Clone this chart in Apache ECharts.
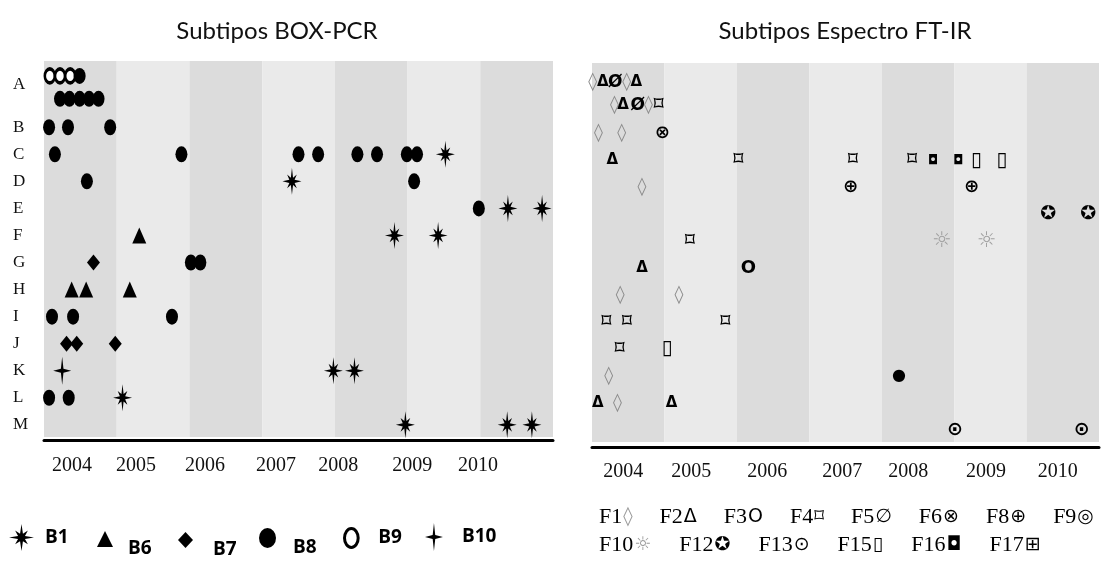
<!DOCTYPE html>
<html>
<head>
<meta charset="utf-8">
<script src="https://cdn.jsdelivr.net/npm/echarts@6/dist/echarts.min.js"></script>
<style>
  html, body { margin: 0; padding: 0; background: #fff; }
  #chart { width: 1105px; height: 574px; }
</style>
</head>
<body>
<div id="chart"></div>
<script>
// ---- data -------------------------------------------------------------
const years = [2004, 2005, 2006, 2007, 2008, 2009, 2010];
const yearLabels = ['2004', '2005', '2006', '2007', '2008', '2009', '2010'];
const rows = ['A', 'B', 'C', 'D', 'E', 'F', 'G', 'H', 'I', 'J', 'K', 'L', 'M'];

// BOX-PCR subtypes: [isolation date as decimal year, row, lane (row A holds two lanes)]
const boxB1 = [[2009.52, 'C'], [2007.41, 'D'], [2010.38, 'E'], [2010.85, 'E'], [2008.82, 'F'], [2009.42, 'F'],
               [2007.98, 'K'], [2008.27, 'K'], [2005.08, 'L'], [2008.97, 'M'], [2010.37, 'M'], [2010.71, 'M']];
const boxB6 = [[2005.31, 'F'], [2004.38, 'H'], [2004.58, 'H'], [2005.18, 'H']];
const boxB7 = [[2004.68, 'G'], [2004.31, 'J'], [2004.45, 'J'], [2004.98, 'J']];
const boxB8 = [[2004.49, 'A', 0],
               [2004.22, 'A', 1], [2004.35, 'A', 1], [2004.49, 'A', 1], [2004.62, 'A', 1], [2004.75, 'A', 1],
               [2004.07, 'B'], [2004.33, 'B'], [2004.91, 'B'],
               [2004.15, 'C'], [2005.89, 'C'], [2007.50, 'C'], [2007.77, 'C'], [2008.31, 'C'], [2008.58, 'C'], [2008.99, 'C'], [2009.13, 'C'],
               [2004.59, 'D'], [2009.09, 'D'], [2009.98, 'E'], [2006.02, 'G'], [2006.15, 'G'],
               [2004.11, 'I'], [2004.40, 'I'], [2005.76, 'I'], [2004.07, 'L'], [2004.34, 'L']];
const boxB9 = [[2004.08, 'A', 0], [2004.22, 'A', 0], [2004.36, 'A', 0]];
const boxB10 = [[2004.25, 'K']];

// FT-IR spectrum subtypes
const ftF1 = [[2004.01, 'A', 0], [2004.48, 'A', 0], [2004.31, 'A', 1], [2004.78, 'A', 1], [2004.09, 'B'], [2004.41, 'B'],
              [2004.69, 'D'], [2004.39, 'H'], [2005.20, 'H'], [2004.23, 'K'], [2004.35, 'L']];
const ftF2 = [[2004.15, 'A', 0], [2004.61, 'A', 0], [2004.43, 'A', 1], [2004.28, 'C'], [2004.69, 'G'], [2004.08, 'L'], [2005.10, 'L']];
const ftF3 = [[2006.16, 'G']];
const ftF4 = [[2004.92, 'A', 1], [2006.02, 'C'], [2007.60, 'C'], [2008.42, 'C'], [2005.35, 'F'],
              [2004.20, 'I'], [2004.48, 'I'], [2005.84, 'I'], [2004.38, 'J']];
const ftF5 = [[2004.32, 'A', 0], [2004.63, 'A', 1]];
const ftF6 = [[2004.97, 'B']];
const ftF8 = [[2007.57, 'D'], [2009.24, 'D']];
const ftF9 = [[2008.24, 'K']];
const ftF10 = [[2008.83, 'F'], [2009.45, 'F']];
const ftF12 = [[2010.30, 'E'], [2010.85, 'E']];
const ftF13 = [[2009.01, 'M'], [2010.76, 'M']];
const ftF15 = [[2009.31, 'C'], [2009.66, 'C'], [2005.04, 'J']];
const ftF16 = [[2008.71, 'C'], [2009.06, 'C']];
const ftF17 = [];

// ---- layout & styling ---------------------------------------------------
const laneA = [0.1, 0.95];              // row A is split into two lanes
const rowValue = (r, lane) => r === 'A' ? laneA[lane || 0] : rows.indexOf(r) + 1;
const toPoints = arr => arr.map(d => [d[0], rowValue(d[1], d[2])]);

const bandDark = '#dcdcdc', bandLight = '#eaeaea';
const bands = years.map((y, i) => [
  { xAxis: y, itemStyle: { color: i % 2 === 0 ? bandDark : bandLight } },
  { xAxis: y + 1 }
]);

// positions of the year captions under each panel
const boxYearAt = [2004.385, 2005.266, 2006.215, 2007.19, 2008.045, 2009.063, 2009.97];
const ftYearAt = [2004.43, 2005.37, 2006.42, 2007.455, 2008.365, 2009.44, 2010.43];
const rowLabelAt = [0.43, 2, 3, 4, 5, 6, 7, 8, 9, 10, 11, 12, 13];

// star outline with `points` spikes; diagonal spikes scaled by `diag`, width by `sx`
function starPath(points, inner, diag, sx) {
  let d = '';
  for (let i = 0; i < points * 2; i++) {
    const a = Math.PI * i / points - Math.PI / 2;
    let r = i % 2 === 0 ? 1 : inner;
    if (diag && i % 2 === 0 && (i / 2) % 2 === 1) r *= diag;
    d += (i ? 'L' : 'M') + (sx * r * Math.cos(a)).toFixed(3) + ',' + (r * Math.sin(a)).toFixed(3) + ' ';
  }
  return 'path://' + d + 'Z';
}
const ellipsePath = rx => `path://M0,-1 A${rx},1 0 1 1 0,1 A${rx},1 0 1 1 0,-1 Z`;

const spikyStar = starPath(8, 0.3, 0.72, 0.68);
const fourStar = starPath(4, 0.2, 0, 0.64);
const oval = ellipsePath(0.75);

const serif = '"Liberation Serif", "Times New Roman", serif';
const glyphFont = '"DejaVu Sans", sans-serif';

// glyph drawn for every FT-IR subtype (mark, legend)
const ftGlyph = {
  F1: { mark: '◊', legend: '◊', size: 18, color: '#8c8c8c', weight: 'normal' },
  F2: { mark: 'Δ', legend: 'Δ', size: 15, color: '#000', weight: 'bold' },
  F3: { mark: 'O', legend: 'O', size: 18, color: '#000', weight: 'bold' },
  F4: { mark: '⌑', legend: '⌑', size: 19, color: '#000', weight: 'bold' },
  F5: { mark: 'Ø', legend: '∅', size: 17, color: '#000', weight: 'bold' },
  F6: { mark: '⊗', legend: '⊗', size: 18, color: '#000', weight: 'bold' },
  F8: { mark: '⊕', legend: '⊕', size: 18, color: '#000', weight: 'bold' },
  F9: { mark: '●', legend: '◎', size: 16, color: '#000', weight: 'bold' },
  F10: { mark: '☼', legend: '☼', size: 22, color: '#a0a0a0', weight: 'normal' },
  F12: { mark: '✪', legend: '✪', size: 19, color: '#000', weight: 'bold' },
  F13: { mark: '⊙', legend: '⊙', size: 19, color: '#000', weight: 'bold' },
  F15: { mark: '▯', legend: '▯', size: 20, color: '#000', weight: 'normal' },
  F16: { mark: '◘', legend: '◘', size: 13, color: '#000', weight: 'normal' },
  F17: { mark: '⊞', legend: '⊞', size: 18, color: '#000', weight: 'normal' }
};
const ftData = { F1: ftF1, F2: ftF2, F3: ftF3, F4: ftF4, F5: ftF5, F6: ftF6, F8: ftF8, F9: ftF9,
                 F10: ftF10, F12: ftF12, F13: ftF13, F15: ftF15, F16: ftF16, F17: ftF17 };

// ---- series -------------------------------------------------------------
const bandSeries = idx => ({
  type: 'scatter', xAxisIndex: idx, yAxisIndex: idx, data: [], silent: true, z: 0,
  markArea: { silent: true, data: bands }
});

const boxSeries = [
  { name: 'B9', data: boxB9, symbol: oval, symbolSize: [10, 14],
    itemStyle: { color: '#fff', borderColor: '#000', borderWidth: 3, opacity: 1 } },
  { name: 'B8', data: boxB8, symbol: oval, symbolSize: [12, 16] },
  { name: 'B6', data: boxB6, symbol: 'triangle', symbolSize: [14, 16] },
  { name: 'B7', data: boxB7, symbol: 'diamond', symbolSize: [13, 16] },
  { name: 'B1', data: boxB1, symbol: spikyStar, symbolSize: [19, 27] },
  { name: 'B10', data: boxB10, symbol: fourStar, symbolSize: [18, 28] }
].map(s => Object.assign({ type: 'scatter', xAxisIndex: 0, yAxisIndex: 0, z: 3,
                           itemStyle: { color: '#000', opacity: 1 } },
                         s, { data: toPoints(s.data) }));

const ftSeries = Object.keys(ftData).map(k => {
  const g = ftGlyph[k];
  return {
    type: 'scatter', name: k, xAxisIndex: 1, yAxisIndex: 1, z: 3,
    data: toPoints(ftData[k]),
    symbol: 'circle', symbolSize: 2,
    itemStyle: { color: 'rgba(0,0,0,0)', opacity: 1 },
    label: {
      show: true, position: 'inside', formatter: g.mark, opacity: 1,
      fontFamily: glyphFont, fontSize: g.size, fontWeight: g.weight, color: g.color
    }
  };
});

// ---- legends ------------------------------------------------------------
// B6, B7 and B8 captions sit a little lower than their icons
const boxLegendLayout = [
  { name: 'B1', icon: starPath(8, 0.3, 0.72, 0.93), left: 9, top: 524, w: 25, h: 27, pad: 6, low: false },
  { name: 'B6', icon: 'triangle', left: 97, top: 519, w: 16, h: 16, pad: 10, low: true },
  { name: 'B7', icon: 'diamond', left: 178, top: 520, w: 15, h: 16, pad: 15, low: true },
  { name: 'B8', icon: ellipsePath(0.85), left: 259, top: 518, w: 17, h: 20, pad: 12, low: true },
  { name: 'B9', icon: ellipsePath(0.72), left: 343, top: 527, w: 14, h: 19, pad: 15, low: false, border: 3 },
  { name: 'B10', icon: fourStar, left: 425, top: 523, w: 18, h: 28, pad: 14, low: false }
];
const boxLegends = boxLegendLayout.map(l => {
  const lg = {
    data: [{ name: l.name, icon: l.icon }], left: l.left, top: l.top, padding: 0,
    itemWidth: l.w, itemHeight: l.h, selectedMode: false,
    formatter: n => (l.low ? '\n' : '') + n,
    textStyle: { fontFamily: '"Open Sans", sans-serif', fontWeight: 'bold', fontSize: 19, color: '#000',
                 lineHeight: 20, padding: [0, 0, 0, l.pad] }
  };
  if (l.border) lg.itemStyle = { borderWidth: l.border, borderColor: '#000', color: '#fff' };
  return lg;
});

const ftRich = {
  n: { fontFamily: serif, fontSize: 22, color: '#000' },
  g: { fontFamily: glyphFont, fontSize: 19, color: '#000', padding: [0, 0, 0, 1] },
  q: { fontFamily: glyphFont, fontSize: 19, color: '#9a9a9a', padding: [0, 0, 0, 1] }
};
const ftLegend = (names, top, gap) => ({
  data: names, left: 594, top: top, padding: 0, itemGap: gap,
  itemWidth: 0, itemHeight: 0, selectedMode: false,
  formatter: n => `{n|${n}}{${ftGlyph[n].color === '#000' ? 'g' : 'q'}|${ftGlyph[n].legend}}`,
  textStyle: { rich: ftRich }
});

// ---- chart --------------------------------------------------------------
const axisLabelX = (at) => ({
  customValues: at,
  formatter: v => yearLabels[at.findIndex(p => Math.abs(p - v) < 1e-6)],
  fontFamily: serif, fontSize: 20, color: '#111'
});

const option = {
  backgroundColor: '#fff',
  animation: false,
  title: [
    { text: 'Subtipos BOX-PCR', left: 277, top: 19, textAlign: 'center', padding: 0,
      textStyle: { fontFamily: 'Lato, sans-serif', fontWeight: 'normal', fontSize: 24, color: '#111' } },
    { text: 'Subtipos Espectro FT-IR', left: 845, top: 19, textAlign: 'center', padding: 0,
      textStyle: { fontFamily: 'Lato, sans-serif', fontWeight: 'normal', fontSize: 24, color: '#111' } }
  ],
  grid: [
    { left: 44, top: 61, width: 509, height: 376 },
    { left: 592, top: 63, width: 507, height: 379 }
  ],
  xAxis: [
    { type: 'value', gridIndex: 0, min: 2004, max: 2011, offset: 3,
      axisLine: { show: true, onZero: false, lineStyle: { color: '#000', width: 3 } },
      axisTick: { show: false }, splitLine: { show: false },
      axisLabel: Object.assign(axisLabelX(boxYearAt), { margin: 16 }) },
    { type: 'value', gridIndex: 1, min: 2004, max: 2011, offset: 5,
      axisLine: { show: true, onZero: false, lineStyle: { color: '#000', width: 3 } },
      axisTick: { show: false }, splitLine: { show: false },
      axisLabel: Object.assign(axisLabelX(ftYearAt), { margin: 15 }) }
  ],
  yAxis: [
    { type: 'value', gridIndex: 0, inverse: true, min: -0.45, max: 13.45,
      axisLine: { show: false }, axisTick: { show: false }, splitLine: { show: false },
      axisLabel: {
        customValues: rowLabelAt, align: 'left', margin: 31,
        formatter: v => rows[rowLabelAt.findIndex(p => Math.abs(p - v) < 1e-6)],
        fontFamily: serif, fontSize: 17, color: '#111'
      } },
    { type: 'value', gridIndex: 1, inverse: true, min: -0.62, max: 13.45, show: false }
  ],
  legend: boxLegends.concat([
    ftLegend(['F1', 'F2', 'F3', 'F4', 'F5', 'F6', 'F8', 'F9'], 506, 22),
    ftLegend(['F10', 'F12', 'F13', 'F15', 'F16', 'F17'], 534, 23)
  ]),
  series: [bandSeries(0), bandSeries(1)].concat(boxSeries, ftSeries)
};

const chart = echarts.init(document.getElementById('chart'), null, { renderer: 'canvas' });
chart.setOption(option);
</script>
</body>
</html>
